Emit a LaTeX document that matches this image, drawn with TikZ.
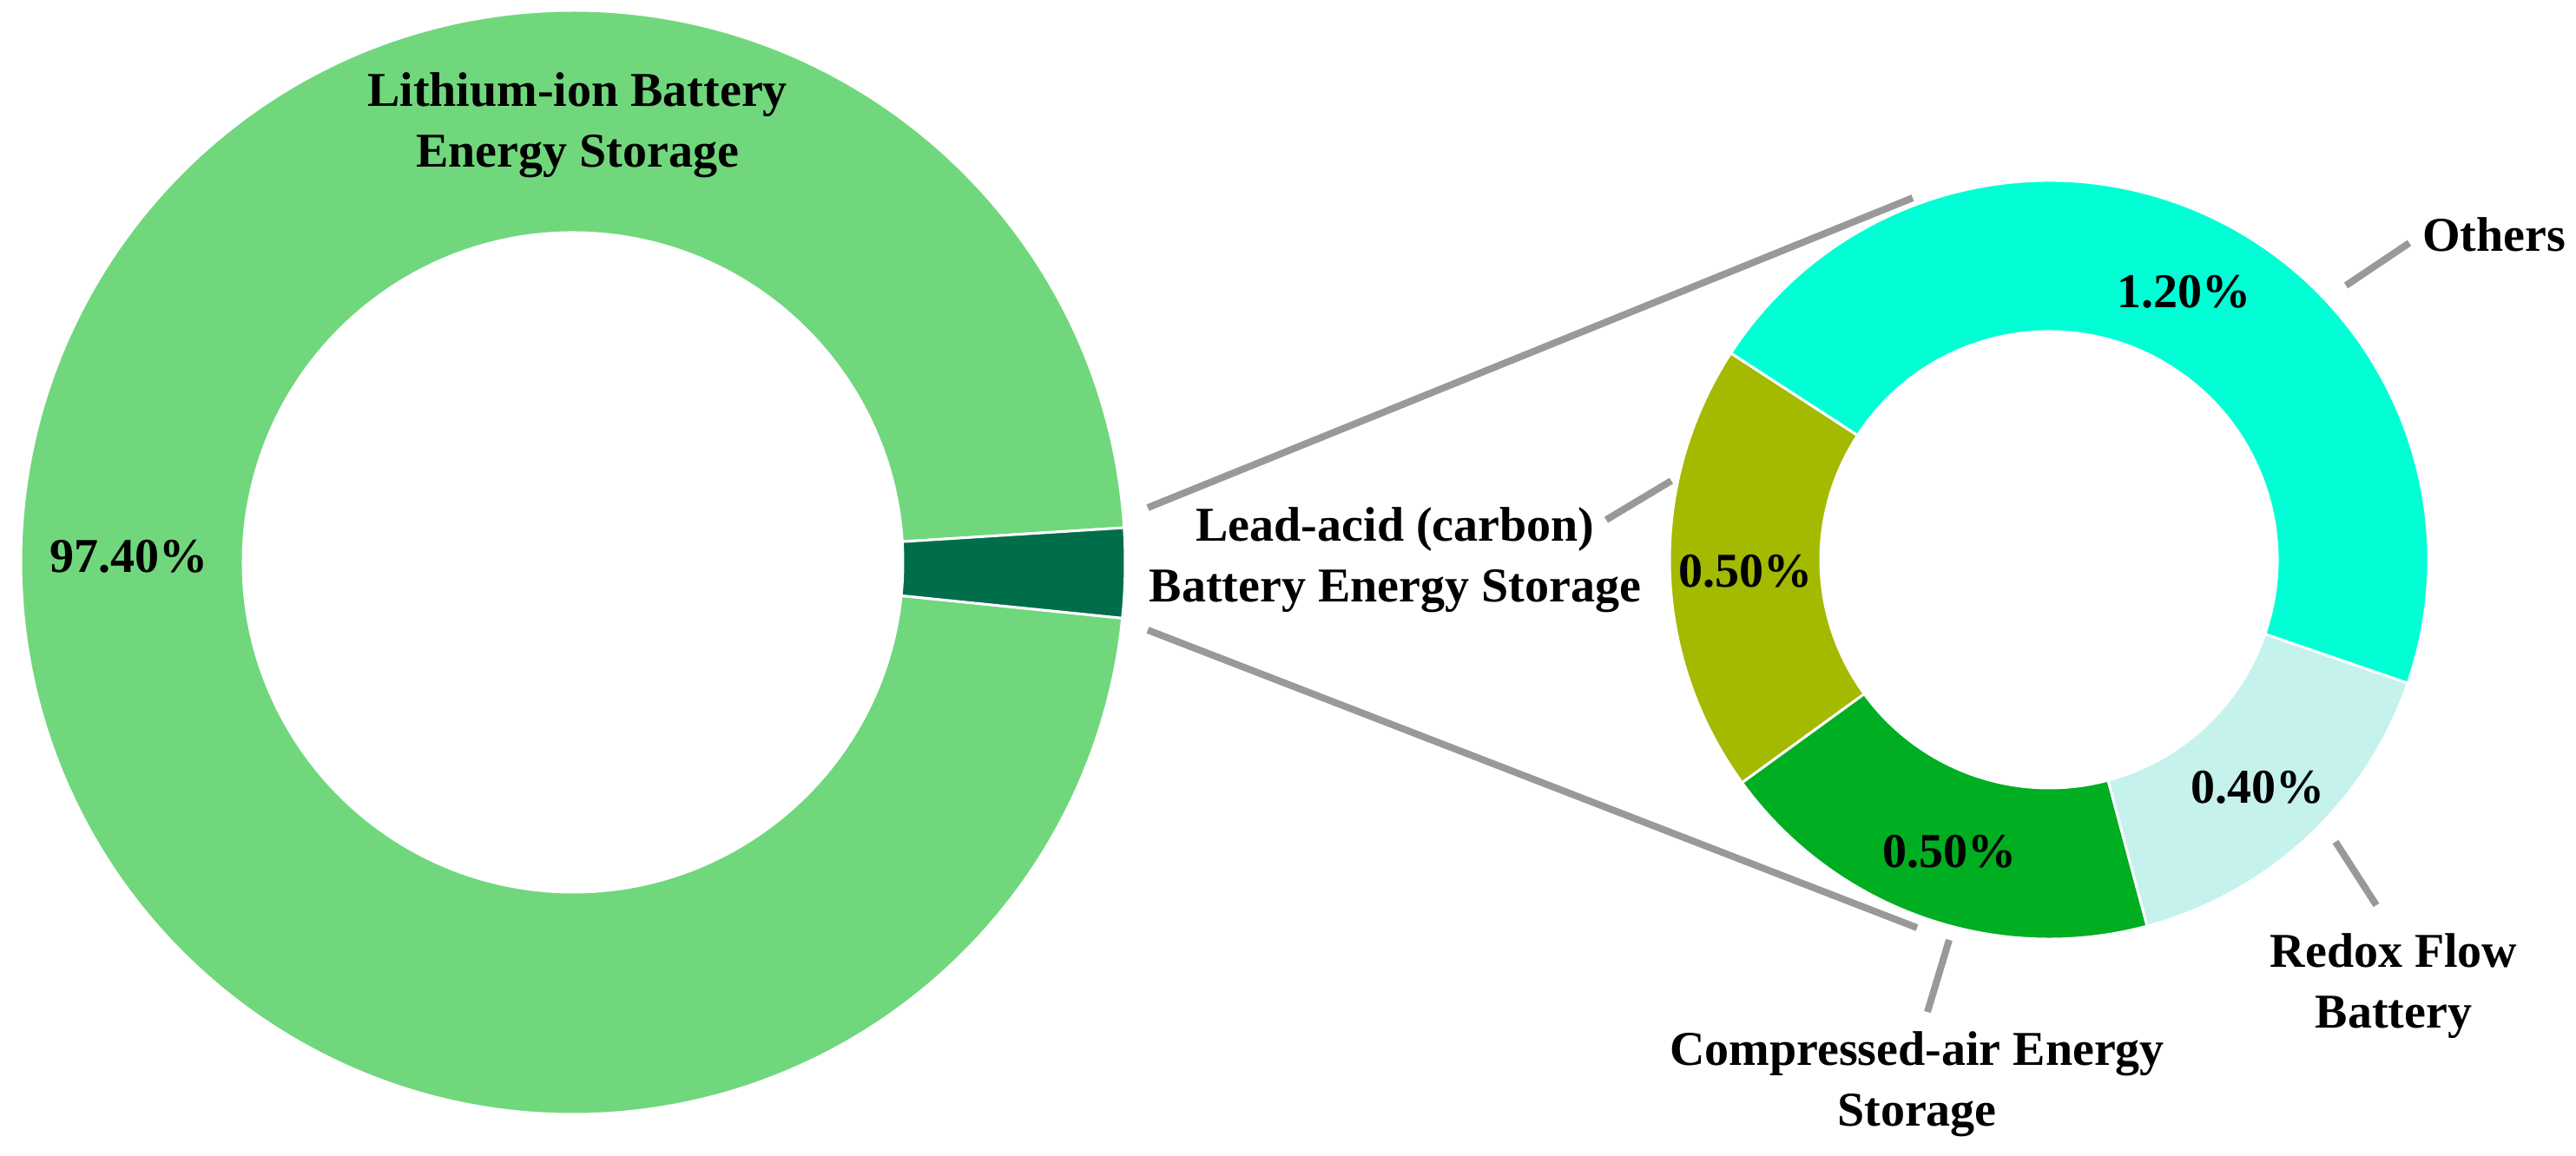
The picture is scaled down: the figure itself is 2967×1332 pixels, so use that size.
\documentclass[tikz,border=0pt]{standalone}
\usepackage{fontspec}
\setmainfont{Liberation Serif}
\usetikzlibrary{calc}
\definecolor{lgreen}{HTML}{70D77D}
\definecolor{dgreen}{HTML}{006E4B}
\definecolor{cyanc}{HTML}{00FFD5}
\definecolor{olive}{HTML}{A3BA00}
\definecolor{mgreen}{HTML}{00AE22}
\definecolor{pale}{HTML}{C5F2EC}
\definecolor{lead}{HTML}{999999}
\newcommand{\sector}[6]{% center, a1, a2, R, r, color
  \fill[#6, draw=white, line width=3pt] ($(#1)+(#2:#4)$) arc[start angle=#2, end angle=#3, radius=#4] -- ($(#1)+(#3:#5)$) arc[start angle=#3, end angle=#2, radius=#5] -- cycle;}
\begin{document}
\begin{tikzpicture}[x=1pt,y=1pt,
  lbl/.style={font=\fontsize{56}{70}\selectfont\bfseries, align=center, inner sep=0pt},
  ldr/.style={draw=lead, line width=8pt}]
\useasboundingbox (0,0) rectangle (2967,1332);
\coordinate (L) at (660,684);
\coordinate (R) at (2360,687);
\sector{L}{3.6}{354.2}{636pt}{380pt}{lgreen}
\sector{L}{-5.8}{3.6}{636pt}{380pt}{dgreen}
\sector{R}{-19}{147}{437pt}{263pt}{cyanc}
\sector{R}{147}{216}{437pt}{263pt}{olive}
\sector{R}{216}{285}{437pt}{263pt}{mgreen}
\sector{R}{285}{341}{437pt}{263pt}{pale}
\node[lbl] (li) at (665,1188) {Lithium-ion Battery\\Energy Storage};
\node[lbl] (p974) at (148,691) {97.40\%};
\node[lbl] (p12) at (2515,996) {1.20\%};
\node[lbl] (p05a) at (2010,674) {0.50\%};
\node[lbl] (p05b) at (2245,351) {0.50\%};
\node[lbl] (p04) at (2600,425) {0.40\%};
\node[lbl, anchor=west] (oth) at (2790,1062) {Others};
\node[lbl] (la) at (1607,687) {Lead-acid (carbon)\\Battery Energy Storage};
\node[lbl] (ca) at (2208,83) {Compressed-air Energy\\Storage};
\node[lbl] (rf) at (2757,196) {Redox Flow\\Battery};
\coordinate (o1) at (2702,1003); \coordinate (o2) at (2775,1052);
\coordinate (l1) at (1850,733); \coordinate (l2) at (1925,778);
\coordinate (c1) at (2220,166); \coordinate (c2) at (2245,249);
\coordinate (r1) at (2690,362); \coordinate (r2) at (2737,289);
\coordinate (t1) at (1322,747); \coordinate (t2) at (2203,1104);
\coordinate (b1) at (1322,606); \coordinate (b2) at (2208,263);
\draw[ldr] (o1) -- (o2);
\draw[ldr] (l1) -- (l2);
\draw[ldr] (c1) -- (c2);
\draw[ldr] (r1) -- (r2);
\draw[ldr] (t1) -- (t2);
\draw[ldr] (b1) -- (b2);
\end{tikzpicture}
\end{document}
